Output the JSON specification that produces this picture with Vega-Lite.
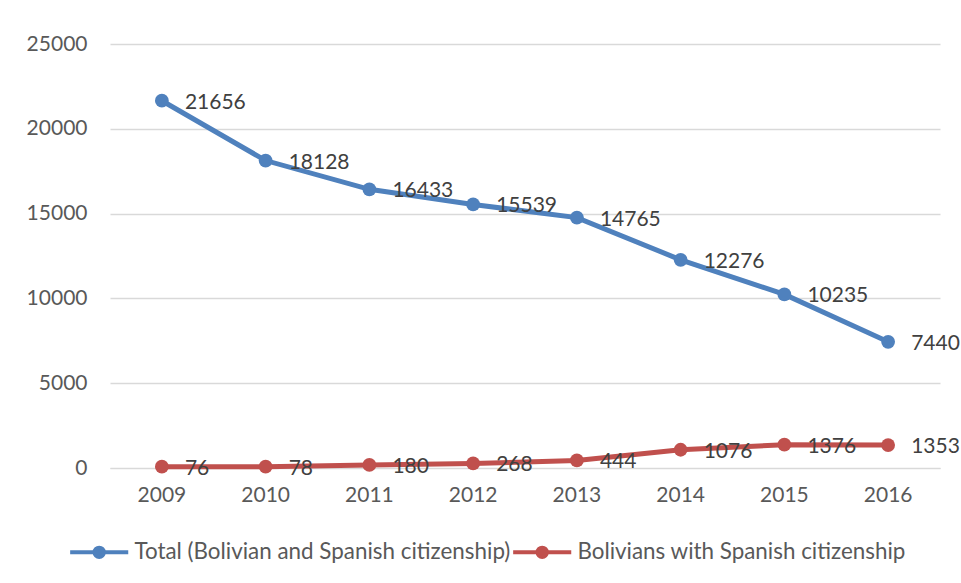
{
  "$schema": "https://vega.github.io/schema/vega-lite/v6.json",
  "width": 830,
  "height": 424,
  "autosize": {"type": "none"},
  "padding": {"left": 110, "top": 44, "right": 21, "bottom": 115},
  "background": "white",
  "config": {
    "view": {"stroke": null},
    "font": "Lato",
    "axis": {"labelFont": "Lato", "labelFontSize": 21, "labelColor": "#595959"},
    "legend": {"labelFont": "Lato", "labelFontSize": 22.4, "labelColor": "#595959"}
  },
  "data": {
    "values": [
      {"year": "2009", "series": "Total (Bolivian and Spanish citizenship)", "value": 21656},
      {"year": "2010", "series": "Total (Bolivian and Spanish citizenship)", "value": 18128},
      {"year": "2011", "series": "Total (Bolivian and Spanish citizenship)", "value": 16433},
      {"year": "2012", "series": "Total (Bolivian and Spanish citizenship)", "value": 15539},
      {"year": "2013", "series": "Total (Bolivian and Spanish citizenship)", "value": 14765},
      {"year": "2014", "series": "Total (Bolivian and Spanish citizenship)", "value": 12276},
      {"year": "2015", "series": "Total (Bolivian and Spanish citizenship)", "value": 10235},
      {"year": "2016", "series": "Total (Bolivian and Spanish citizenship)", "value": 7440},
      {"year": "2009", "series": "Bolivians with Spanish citizenship", "value": 76},
      {"year": "2010", "series": "Bolivians with Spanish citizenship", "value": 78},
      {"year": "2011", "series": "Bolivians with Spanish citizenship", "value": 180},
      {"year": "2012", "series": "Bolivians with Spanish citizenship", "value": 268},
      {"year": "2013", "series": "Bolivians with Spanish citizenship", "value": 444},
      {"year": "2014", "series": "Bolivians with Spanish citizenship", "value": 1076},
      {"year": "2015", "series": "Bolivians with Spanish citizenship", "value": 1376},
      {"year": "2016", "series": "Bolivians with Spanish citizenship", "value": 1353}
    ]
  },
  "encoding": {
    "x": {
      "field": "year", "type": "ordinal",
      "scale": {"type": "band", "paddingInner": 0, "paddingOuter": 0},
      "axis": {"title": null, "labelAngle": 0, "ticks": false, "domainColor": "#d9d9d9", "domainWidth": 1, "labelPadding": 16, "grid": false}
    },
    "y": {
      "field": "value", "type": "quantitative",
      "scale": {"domain": [0, 25000], "nice": false},
      "axis": {"title": null, "values": [0, 5000, 10000, 15000, 20000, 25000], "format": "d", "ticks": false, "domain": false, "gridColor": "#d9d9d9", "gridWidth": 1.3, "labelPadding": 23}
    },
    "color": {
      "field": "series", "type": "nominal",
      "scale": {
        "domain": ["Total (Bolivian and Spanish citizenship)", "Bolivians with Spanish citizenship"],
        "range": ["#4F81BD", "#C0504D"]
      },
      "legend": {
        "title": null, "orient": "none", "legendX": -22, "legendY": 497, "direction": "horizontal",
        "symbolType": "M-5,0H5M0.8,0A0.8,0.8 0 1,1 -0.8,0A0.8,0.8 0 1,1 0.8,0Z",
        "symbolSize": 135, "symbolStrokeWidth": 4, "labelOffset": 24, "columnPadding": -6, "labelLimit": 0,
        "encode": {"symbols": {"update": {"fill": {"scale": "color", "field": "value"}, "stroke": {"scale": "color", "field": "value"}, "opacity": {"value": 1}}}}
      }
    }
  },
  "layer": [
    {"mark": {"type": "line", "strokeWidth": 5}},
    {"mark": {"type": "point", "filled": true, "opacity": 1, "size": 190}},
    {
      "mark": {"type": "text", "align": "left", "baseline": "middle", "dx": 23, "dy": 2, "fontSize": 21, "font": "Lato", "color": "#404040"},
      "encoding": {"text": {"field": "value", "type": "quantitative", "format": "d"}, "color": {"value": "#404040"}}
    }
  ]
}
